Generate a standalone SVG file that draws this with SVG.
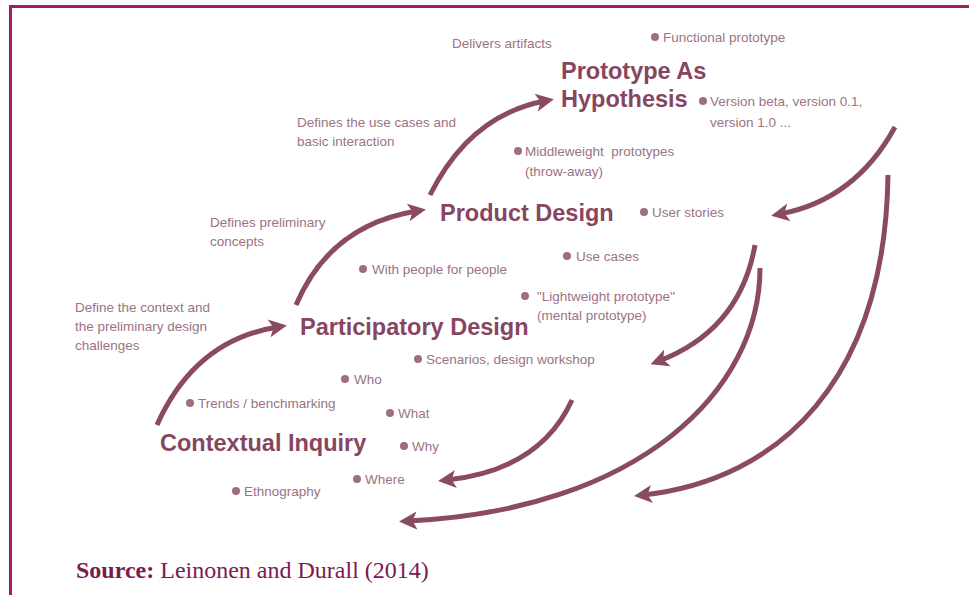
<svg xmlns="http://www.w3.org/2000/svg" width="969" height="595" viewBox="0 0 969 595">
<defs>
<style>
.frame{stroke:#9e1d63;stroke-width:3;fill:none}
.title{font-family:"Liberation Sans",Arial,sans-serif;font-weight:bold;font-size:23.5px;fill:#87465f}
.note{font-family:"Liberation Sans",Arial,sans-serif;font-size:13.5px;fill:#9b7383}
.dot{fill:#9c6e80}
.arr{fill:none;stroke:#8a4b60;stroke-width:5;stroke-linecap:butt}
.src{font-family:"Liberation Serif","Times New Roman",serif;font-size:24px;fill:#7b1a4f}
</style>
<marker id="ah" markerUnits="userSpaceOnUse" markerWidth="22" markerHeight="22" viewBox="0 -11 22 22" refX="9" refY="0" orient="auto">
<path d="M0,-9 L18,0 L0,9 L4.5,0 Z" fill="#8a4b60"/>
</marker>
</defs>
<rect width="969" height="595" fill="#ffffff"/>
<path class="frame" d="M10.5,595 V6.5 H969"/>

<g id="connectors">
<path class="arr" marker-end="url(#ah)" d="M157,425 Q195,340 278,327"/>
<path class="arr" marker-end="url(#ah)" d="M296,305 Q330,225 417,211"/>
<path class="arr" marker-end="url(#ah)" d="M430,195 Q470,115 545,101"/>
<path class="arr" marker-end="url(#ah)" d="M895,127 Q855,200 780,214"/>
<path class="arr" marker-end="url(#ah)" d="M755,245 Q740,330 659,361"/>
<path class="arr" marker-end="url(#ah)" d="M572,400 Q540,470 447,480"/>
<path class="arr" marker-end="url(#ah)" d="M760,268 C760,390 640,510 408,521"/>
<path class="arr" marker-end="url(#ah)" d="M888,175 C885,380 780,480 643,495"/>
</g>

<g id="prototype-as-hypothesis">
<text class="title" x="561" y="79">Prototype As</text>
<text class="title" x="561" y="107">Hypothesis</text>
</g>
<g id="product-design">
<text class="title" x="440" y="221">Product Design</text>
</g>
<g id="participatory-design">
<text class="title" x="300" y="335">Participatory Design</text>
</g>
<g id="contextual-inquiry">
<text class="title" x="160" y="451">Contextual Inquiry</text>
</g>

<g id="labels">
<text class="note" x="452" y="48">Delivers artifacts</text>
<text class="note" x="297" y="127">Defines the use cases and</text>
<text class="note" x="297" y="146">basic interaction</text>
<text class="note" x="210" y="227">Defines preliminary</text>
<text class="note" x="210" y="246">concepts</text>
<text class="note" x="75" y="312">Define the context and</text>
<text class="note" x="75" y="331">the preliminary design</text>
<text class="note" x="75" y="350">challenges</text>
</g>

<g id="bullets">
<circle class="dot" cx="655" cy="37" r="4"/><text class="note" x="663" y="42">Functional prototype</text>
<circle class="dot" cx="703" cy="101" r="4"/><text class="note" x="710" y="106">Version beta, version 0.1,</text>
<text class="note" x="710" y="127">version 1.0 ...</text>
<circle class="dot" cx="518" cy="151" r="4"/><text class="note" x="525" y="156" xml:space="preserve">Middleweight  prototypes</text>
<text class="note" x="525" y="176">(throw-away)</text>
<circle class="dot" cx="644" cy="212" r="4"/><text class="note" x="652" y="217">User stories</text>
<circle class="dot" cx="567" cy="256" r="4"/><text class="note" x="576" y="261">Use cases</text>
<circle class="dot" cx="363" cy="269" r="4"/><text class="note" x="372" y="274">With people for people</text>
<circle class="dot" cx="525" cy="296" r="4"/><text class="note" x="537" y="301">"Lightweight prototype"</text>
<text class="note" x="537" y="320">(mental prototype)</text>
<circle class="dot" cx="418" cy="359" r="4"/><text class="note" x="426" y="364">Scenarios, design workshop</text>
<circle class="dot" cx="345" cy="379" r="4"/><text class="note" x="354" y="384">Who</text>
<circle class="dot" cx="190" cy="403" r="4"/><text class="note" x="198" y="408">Trends / benchmarking</text>
<circle class="dot" cx="390" cy="413" r="4"/><text class="note" x="398" y="418">What</text>
<circle class="dot" cx="404" cy="446" r="4"/><text class="note" x="412" y="451">Why</text>
<circle class="dot" cx="357" cy="479" r="4"/><text class="note" x="365" y="484">Where</text>
<circle class="dot" cx="236" cy="491" r="4"/><text class="note" x="244" y="496">Ethnography</text>
</g>

<text class="src" x="76" y="578"><tspan font-weight="bold">Source:</tspan> Leinonen and Durall (2014)</text>
</svg>
